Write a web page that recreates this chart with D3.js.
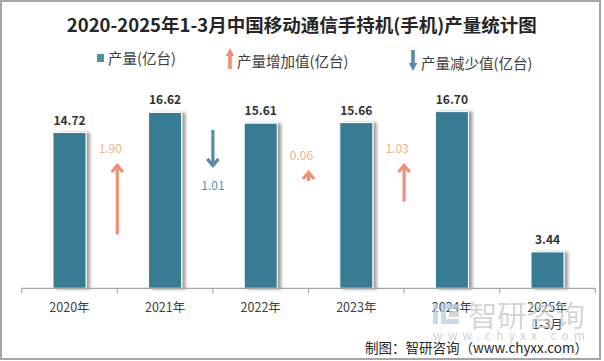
<!DOCTYPE html>
<html><head><meta charset="utf-8">
<script src="https://cdn.jsdelivr.net/npm/d3@7"></script>
<style>html,body{margin:0;padding:0;background:#fff;}</style>
</head><body><div id="chart"></div>
<script>
const titleText = "2020-2025年1-3月中国移动通信手持机(手机)产量统计图";
const categories = ["2020年","2021年","2022年","2023年","2024年","2025年\n1-3月"];
const production = [14.72,16.62,15.61,15.66,16.70,3.44];
const changeValues = [1.90,-1.01,0.06,1.03];
const legendLabels = ["产量(亿台)","产量增加值(亿台)","产量减少值(亿台)"];
const footerText = "制图：智研咨询（www.chyxx.com）";
const watermarkText = "智研咨询";
const watermarkUrl = "www.chyxx.com";

const W = 604, H = 361;
const FONT = "'Noto Sans CJK SC','Noto Sans',sans-serif";
const BAR = "#377b94", UP = "#f08f76", UPLBL = "#f4b183", DOWN = "#548da6", DOWNLBL = "#5a91b0";
const TXT = "#404040";

const svg = d3.select("#chart").append("svg").attr("width", W).attr("height", H)
  .style("font-family", FONT);

const defs = svg.append("defs");
const f = defs.append("filter").attr("id","shadow").attr("x","-30%").attr("y","-10%").attr("width","160%").attr("height","120%");
f.append("feDropShadow").attr("dx",3.5).attr("dy",0.5).attr("stdDeviation",1.8)
  .attr("flood-color","#000").attr("flood-opacity",0.38);

svg.append("rect").attr("x",0).attr("y",0).attr("width",W).attr("height",H).attr("fill","#fff");
svg.append("rect").attr("x",1).attr("y",1).attr("width",599).attr("height",358)
  .attr("fill","none").attr("stroke","#a6a6a6").attr("stroke-width",2);

// title
svg.append("text").attr("x",301.8).attr("y",23.5).attr("text-anchor","middle")
  .attr("dominant-baseline","central").attr("font-size",18).attr("font-weight","bold")
  .attr("fill","#262626").attr("textLength",470).attr("lengthAdjust","spacingAndGlyphs")
  .text(titleText);

// scales
const x = d3.scaleBand().domain(categories).range([21.7, 595.3]).paddingInner(0).paddingOuter(0);
const y = d3.scaleLinear().domain([0, 20]).range([288.3, 288.3 - 211.6]);
const arrowLen = d3.scaleLinear().domain([0, 1]).range([0, 37.5]);
const barW = 33;

// bars
const g = svg.append("g");
g.selectAll("rect.bar").data(production).join("rect").attr("class","bar")
  .attr("x",(d,i)=>x(categories[i]) + (x.bandwidth()-barW)/2)
  .attr("y",d=>y(d)).attr("width",barW).attr("height",d=>y(0)-y(d))
  .attr("fill",BAR).attr("stroke","#fff").attr("stroke-width",1)
  .attr("filter","url(#shadow)");

g.selectAll("text.val").data(production).join("text").attr("class","val")
  .attr("x",(d,i)=>x(categories[i]) + x.bandwidth()/2)
  .attr("y",d=>y(d) - 13.5).attr("text-anchor","middle").attr("dominant-baseline","central")
  .attr("font-size",12).attr("font-weight","bold").attr("fill","#333")
  .text(d=>d.toFixed(2));

// axis
const axisY = y(0);
svg.append("line").attr("x1",x.range()[0]).attr("x2",x.range()[1]).attr("y1",axisY).attr("y2",axisY)
  .attr("stroke","#a6a6a6").attr("stroke-width",1.2);
const boundaries = categories.map(c=>x(c)).concat([x.range()[1]]);
svg.selectAll("line.tick").data(boundaries).join("line").attr("class","tick")
  .attr("x1",d=>d).attr("x2",d=>d).attr("y1",axisY).attr("y2",axisY+5)
  .attr("stroke","#a6a6a6").attr("stroke-width",1.2);

const xl = svg.selectAll("text.xl").data(categories).join("text").attr("class","xl")
  .attr("x",d=>x(d)+x.bandwidth()/2).attr("y",306).attr("text-anchor","middle")
  .attr("font-size",12.5).attr("fill",TXT);
xl.each(function(d){
  const t = d3.select(this);
  d.split("\n").forEach((s,k)=>{
    t.append("tspan").attr("x",x(d)+x.bandwidth()/2).attr("y",306 + k*17)
      .attr("dominant-baseline","central").text(s);
  });
});

// change arrows
function drawArrow(sel, ax, yTip, yTail, color, sw, arm, armH){
  const dir = yTail > yTip ? 1 : -1;
  sel.append("line").attr("x1",ax).attr("x2",ax).attr("y1",yTip + dir*1.5).attr("y2",yTail)
    .attr("stroke",color).attr("stroke-width",sw);
  const jy = yTip + dir*2.4;
  sel.append("path").attr("d",`M${ax-arm},${jy+dir*armH} L${ax},${jy} L${ax+arm},${jy+dir*armH}`)
    .attr("fill","none").attr("stroke",color).attr("stroke-width",sw)
    .attr("stroke-linejoin","miter").attr("stroke-miterlimit",10);
}
const ag = svg.append("g");
changeValues.forEach((v,i)=>{
  const ax = x(categories[i+1]);
  const len = arrowLen(Math.abs(v));
  if (v >= 0) {
    const tail = 163 + Math.max(len, 18);
    const tip = tail - Math.max(len, 11);
    drawArrow(ag, ax, tip, tail, UP, 3.2, 5.6, 6.6);
    ag.append("text").attr("x",ax-7).attr("y",tip-16).attr("text-anchor","middle")
      .attr("dominant-baseline","central").attr("font-size",12).attr("fill",UPLBL).text(v.toFixed(2));
  } else {
    const start = 130;
    const tip = start + len;
    drawArrow(ag, ax, tip, start, DOWN, 3.2, 5.6, 6.6);
    ag.append("text").attr("x",ax).attr("y",tip+17).attr("text-anchor","middle")
      .attr("dominant-baseline","central").attr("font-size",12).attr("fill",DOWNLBL).text(Math.abs(v).toFixed(2));
  }
});

// legend
const lg = svg.append("g").attr("font-size",14.5).attr("fill",TXT);
lg.append("rect").attr("x",97).attr("y",54).attr("width",7).attr("height",8).attr("fill","#4b8fa8");
lg.append("text").attr("x",108).attr("y",57.5).attr("dominant-baseline","central").text(legendLabels[0]);
function blockArrow(ax, top, bottom, up, color){
  const hw = 4.2, hh = 8, sw = 1.8;
  let d;
  if (up) d = `M${ax},${top} L${ax+hw},${top+hh} L${ax+sw},${top+hh} L${ax+sw},${bottom} L${ax-sw},${bottom} L${ax-sw},${top+hh} L${ax-hw},${top+hh} Z`;
  else d = `M${ax},${bottom} L${ax+hw},${bottom-hh} L${ax+sw},${bottom-hh} L${ax+sw},${top} L${ax-sw},${top} L${ax-sw},${bottom-hh} L${ax-hw},${bottom-hh} Z`;
  lg.append("path").attr("d",d).attr("fill",color);
}
blockArrow(230, 48, 69, true, UP);
lg.append("text").attr("x",237).attr("y",60).attr("dominant-baseline","central").text(legendLabels[1]);
blockArrow(413, 50, 71, false, DOWN);
lg.append("text").attr("x",421).attr("y",62).attr("dominant-baseline","central").text(legendLabels[2]);

// watermark
const wm = svg.append("g").attr("opacity",0.75);
wm.append("rect").attr("x",433).attr("y",304).attr("width",5).attr("height",5).attr("fill","#b8cde0");
wm.append("rect").attr("x",433).attr("y",311).attr("width",5).attr("height",13).attr("fill","#b8cde0");
wm.append("path").attr("d","M441,304 H459 V309 H446 V319 H459 V324 H441 Z").attr("fill","#b8cde0");
wm.append("rect").attr("x",449).attr("y",311).attr("width",10).attr("height",6).attr("fill","#c8c8c8");
wm.append("text").attr("x",468).attr("y",313.5).attr("dominant-baseline","central")
  .attr("font-size",29).attr("fill","#c8c8c8").attr("textLength",117).attr("lengthAdjust","spacingAndGlyphs")
  .text(watermarkText);
wm.append("text").attr("x",433).attr("y",334).attr("dominant-baseline","central")
  .attr("font-size",12).attr("fill","#c0c0c0").attr("textLength",152).attr("lengthAdjust","spacing")
  .text(watermarkUrl);

// footer
svg.append("text").attr("x",588).attr("y",347).attr("text-anchor","end").attr("dominant-baseline","central")
  .attr("font-size",13.5).attr("fill","#262626")
  .text(footerText);
</script>
</body></html>
